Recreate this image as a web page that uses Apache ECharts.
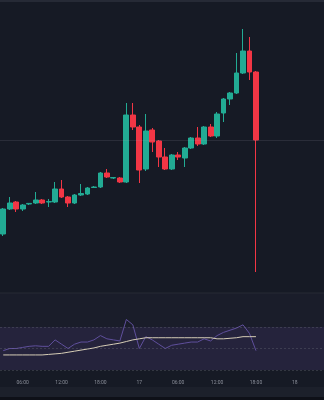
<!DOCTYPE html>
<html><head><meta charset="utf-8">
<script src="https://cdn.jsdelivr.net/npm/echarts@6/dist/echarts.min.js"></script>
<style>html,body{margin:0;padding:0;background:#161a25;}#c{width:324px;height:400px;}</style>
</head><body><div id="c"></div>
<script>
// hourly categories, 16th 03:00 .. 18th 04:00
const categories = [
'16 03:00','16 04:00','16 05:00','16 06:00','16 07:00','16 08:00','16 09:00','16 10:00','16 11:00','16 12:00',
'16 13:00','16 14:00','16 15:00','16 16:00','16 17:00','16 18:00','16 19:00','16 20:00','16 21:00','16 22:00',
'16 23:00','17 00:00','17 01:00','17 02:00','17 03:00','17 04:00','17 05:00','17 06:00','17 07:00','17 08:00',
'17 09:00','17 10:00','17 11:00','17 12:00','17 13:00','17 14:00','17 15:00','17 16:00','17 17:00','17 18:00',
'17 19:00','17 20:00','17 21:00','17 22:00','17 23:00','18 00:00','18 01:00','18 02:00','18 03:00','18 04:00'];
const tickCats   = ['16 06:00','16 12:00','16 18:00','17 00:00','17 06:00','17 12:00','17 18:00','18 00:00'];
const tickLabels = ['06:00','12:00','18:00','17','06:00','12:00','18:00','18'];

// candles: [open, close, low, high]
const ohlc = [
[66,91,64,92],[91,97,90,103],[98,91,88,99],[91,95,89,96],[96,96.6,95,97],
[97,100,96,108],[100,97,96,101],[98,98.4,93,101],[98,111,97,118],[111,103,102,120],
[103,97,93,104],[97,105,96,106],[105,106.5,104,116],[106,112,105,113],[112.5,113,112,114],
[113,127,112,128],[127,123,122,131],[122,122.4,121,123],[122,118,117,123],[118,185,117,197],
[185,173,170,197],[173,130,117,175],[131,169,129,186],[170,158,148,172],[159,143,133,160],
[143,131,130,152],[131,145,130,146],[145,143,140,148],[142,152,133,153],[152,162,151,163],
[162,156,154,173],[156,173,155,174],[173,164,163,176],[164,186,162,188],[187,201,178,202],
[201,207,195,208],[207,227,206,247],[227,249,226,271],[249,228,220,263],[228,160,28,229]
];
const lastPrice = 160;

const rsi = [48,50,50,51,52,52.5,52,52,58,54,50,54,56,56,58,62,59,58,57,77,
             72,50,61,58,54,50,53,54,55,56,56,59,57,62,65,67,69,72,64,48];
const rsiMA = [44,44,44,44,44,44,44,44.5,45,45.5,46.5,47.5,48.5,49.5,50.5,52,53,54,55,56.5,
               58,59,60,60,60,60,60,60,60,60,60,60,60,59,59,59.5,60,61,61,61];
const rsiBands = [70,50,30];

const chart = echarts.init(document.getElementById('c'), null, {renderer:'canvas'});
const GREEN='#22ab94', RED='#f23645';
chart.setOption({
  backgroundColor:'#161a25',
  animation:false,
  graphic:[
    {type:'rect',shape:{x:0,y:0,width:324,height:2},style:{fill:'#262a36'},silent:true},
    {type:'rect',shape:{x:0,y:293,width:324,height:34},style:{fill:'#1a1d2a'},silent:true,z:-1},
    {type:'rect',shape:{x:0,y:387,width:324,height:10},style:{fill:'#1c202b'},silent:true},
    {type:'rect',shape:{x:0,y:397,width:324,height:3},style:{fill:'#0e1018'},silent:true},
    {type:'line',shape:{x1:0,y1:293,x2:324,y2:293},style:{stroke:'#262a35',lineWidth:1},silent:true}
  ],
  grid:[
    {left:-1,width:325,top:0,height:293},
    {left:-1,width:325,top:293,height:77}
  ],
  xAxis:[
    {type:'category',gridIndex:0,data:categories,axisLine:{show:false},axisTick:{show:false},axisLabel:{show:false},splitLine:{show:false}},
    {type:'category',gridIndex:1,data:categories,axisLine:{show:false},axisTick:{show:false},splitLine:{show:false},
     axisLabel:{show:true,color:'#8a8e99',fontSize:5,fontFamily:'Roboto',margin:10,
       interval:function(i,v){return tickCats.indexOf(v)>=0;},
       formatter:function(v){const k=tickCats.indexOf(v);return k>=0?tickLabels[k]:'';}}}
  ],
  yAxis:[
    {type:'value',gridIndex:0,min:7,max:300,show:false,splitLine:{show:false}},
    {type:'value',gridIndex:1,min:30,max:101.6,show:false,splitLine:{show:false}}
  ],
  series:[
    {type:'candlestick',xAxisIndex:0,yAxisIndex:0,data:ohlc,barWidth:'82%',
     itemStyle:{color:GREEN,color0:RED,borderColor:GREEN,borderColor0:RED,borderWidth:1},
     markLine:{silent:true,symbol:'none',label:{show:false},
       lineStyle:{color:'rgba(180,180,195,0.13)',type:'solid',width:1},
       data:[{yAxis:lastPrice}]}},
    {type:'line',xAxisIndex:1,yAxisIndex:1,data:rsi,showSymbol:false,
     lineStyle:{color:'#5f4f9c',width:1},
     markArea:{silent:true,itemStyle:{color:'rgba(126,87,194,0.15)'},data:[[{yAxis:rsiBands[2]},{yAxis:rsiBands[0]}]]},
     markLine:{silent:true,symbol:'none',label:{show:false},
       lineStyle:{color:'rgba(120,123,134,0.3)',type:[2,2],width:1},
       data:[{yAxis:rsiBands[0]},{yAxis:rsiBands[1]},{yAxis:rsiBands[2]}]}},
    {type:'line',xAxisIndex:1,yAxisIndex:1,data:rsiMA,showSymbol:false,
     lineStyle:{color:'#d6cdb6',width:1}}
  ]
});
</script></body></html>
